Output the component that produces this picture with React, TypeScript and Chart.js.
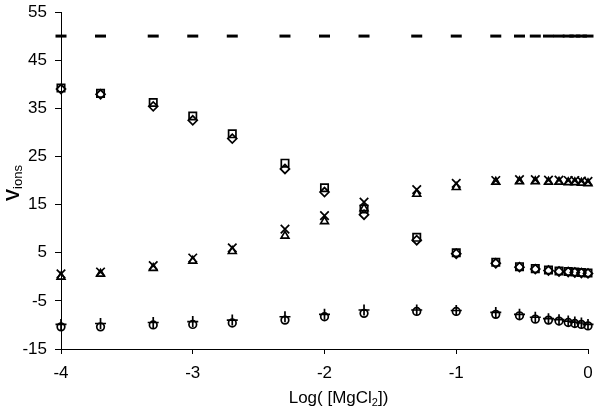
import React, { useEffect, useRef } from 'react';
import { Chart, registerables } from 'chart.js';

Chart.register(...registerables);

const logMgCl2 = [-4, -3.7, -3.3, -3, -2.7, -2.3, -2, -1.7, -1.3, -1, -0.7, -0.52, -0.4, -0.3, -0.22, -0.15, -0.1, -0.05, 0];
const seriesDash = [50, 50, 50, 50, 50, 50, 50, 50, 50, 50, 50, 50, 50, 50, 50, 50, 50, 50, 50];
const seriesSquare = [39.2, 38.1, 36.2, 33.4, 29.7, 23.6, 18.5, 14.1, 8.2, 5.0, 3.0, 2.1, 1.7, 1.4, 1.2, 1.1, 1.0, 0.9, 0.8];
const seriesDiamond = [39.0, 37.9, 35.4, 32.5, 28.7, 22.4, 17.6, 12.9, 7.6, 4.8, 2.8, 2.0, 1.6, 1.3, 1.1, 1.0, 0.9, 0.8, 0.7];
const seriesX = [0.6, 1.0, 2.3, 3.9, 6.0, 9.9, 12.7, 15.5, 18.1, 19.4, 20.0, 20.2, 20.2, 20.1, 20.1, 20.0, 20.0, 19.9, 19.8];
const seriesTriangle = [0.0, 0.6, 1.8, 3.3, 5.3, 8.5, 11.5, 14.2, 17.2, 18.6, 19.7, 19.8, 19.8, 19.7, 19.7, 19.6, 19.6, 19.5, 19.4];
const seriesCircle = [-10.4, -10.4, -10.0, -9.9, -9.6, -9.0, -8.3, -7.6, -7.2, -7.2, -7.8, -8.1, -8.8, -9.0, -9.2, -9.5, -9.7, -9.9, -10.2];
const seriesPlus = [-9.9, -9.7, -9.5, -9.3, -9.0, -8.3, -7.8, -6.9, -6.9, -7.0, -7.4, -7.8, -8.4, -8.7, -8.9, -9.2, -9.4, -9.6, -9.9];

const xTitle = ['Log( [MgCl', '2', '])'];
const yTitle = ['V', 'ions'];

const FONT = '"Liberation Sans", Arial, sans-serif';

const toPoints = (ys: number[]) => logMgCl2.map((x, i) => ({ x, y: ys[i] }));

const titlePlugin = {
  id: 'axisTitles',
  afterDraw(chart: any) {
    const ctx = chart.ctx as CanvasRenderingContext2D;
    const area = chart.chartArea;
    ctx.save();
    ctx.fillStyle = '#000';
    ctx.textBaseline = 'alphabetic';
    ctx.textAlign = 'left';
    // x title
    const mainF = `17px ${FONT}`;
    const subF = `11px ${FONT}`;
    ctx.font = mainF;
    const w0 = ctx.measureText(xTitle[0]).width;
    const w2 = ctx.measureText(xTitle[2]).width;
    ctx.font = subF;
    const w1 = ctx.measureText(xTitle[1]).width;
    const total = w0 + w1 + w2;
    let x = (area.left + area.right) / 2 + 14 - total / 2;
    const by = 403;
    ctx.font = mainF;
    ctx.fillText(xTitle[0], x, by);
    x += w0;
    ctx.font = subF;
    ctx.fillText(xTitle[1], x, by + 3);
    x += w1;
    ctx.font = mainF;
    ctx.fillText(xTitle[2], x, by);
    // y title
    ctx.translate(19, 183);
    ctx.rotate(-Math.PI / 2);
    const vF = `bold 18px ${FONT}`;
    const iF = `13px ${FONT}`;
    ctx.font = vF;
    const vw = ctx.measureText(yTitle[0]).width;
    ctx.font = iF;
    const iw = ctx.measureText(yTitle[1]).width;
    let tx = -(vw + iw) / 2;
    ctx.font = vF;
    ctx.fillText(yTitle[0], tx, 0);
    tx += vw;
    ctx.font = iF;
    ctx.fillText(yTitle[1], tx, 3);
    ctx.restore();
  },
};

export default function App() {
  const ref = useRef<HTMLCanvasElement>(null);
  useEffect(() => {
    if (!ref.current) return;
    const mk = (data: number[], pointStyle: any, radius: number, bw = 1.7) => ({
      data: toPoints(data),
      pointStyle,
      pointRadius: radius,
      pointBorderColor: '#000',
      pointBackgroundColor: 'rgba(0,0,0,0)',
      pointBorderWidth: bw,
      showLine: false,
      clip: false as any,
    });
    const chart = new Chart(ref.current, {
      type: 'scatter',
      data: {
        datasets: [
          mk(seriesDash, 'line', 5.5, 3),
          mk(seriesSquare, 'rect', 5.2),
          mk(seriesDiamond, 'rectRot', 4.5),
          mk(seriesX, 'crossRot', 6),
          mk(seriesTriangle, 'triangle', 4.5),
          mk(seriesCircle, 'circle', 3.8),
          mk(seriesPlus, 'cross', 5.5),
        ] as any,
      },
      options: {
        animation: false,
        responsive: true,
        maintainAspectRatio: false,
        layout: { padding: { top: 12, right: 12, left: 0, bottom: 0 } },
        plugins: { legend: { display: false }, tooltip: { enabled: false } },
        scales: {
          x: {
            type: 'linear',
            min: -4,
            max: 0,
            ticks: { stepSize: 1, color: '#000', font: { family: FONT, size: 17 }, padding: 9 },
            grid: { drawOnChartArea: false, drawTicks: true, tickLength: 5, color: '#000' },
            border: { display: true, color: '#000', width: 1 },
            afterFit: (s: any) => { s.height = 60; s.paddingLeft = 0; s.paddingRight = 0; },
          },
          y: {
            type: 'linear',
            min: -15,
            max: 55,
            ticks: { stepSize: 10, color: '#000', font: { family: FONT, size: 17 }, padding: 8 },
            grid: { drawOnChartArea: false, drawTicks: true, tickLength: 6, color: '#000' },
            border: { display: true, color: '#000', width: 1 },
            afterFit: (s: any) => { s.width = 61; s.paddingTop = 0; s.paddingBottom = 0; },
          },
        },
      },
      plugins: [titlePlugin],
    });
    return () => chart.destroy();
  }, []);
  return (
    <div style={{ position: 'absolute', left: 0, top: 0, width: 600, height: 409, background: '#fff' }}>
      <canvas ref={ref} />
    </div>
  );
}
